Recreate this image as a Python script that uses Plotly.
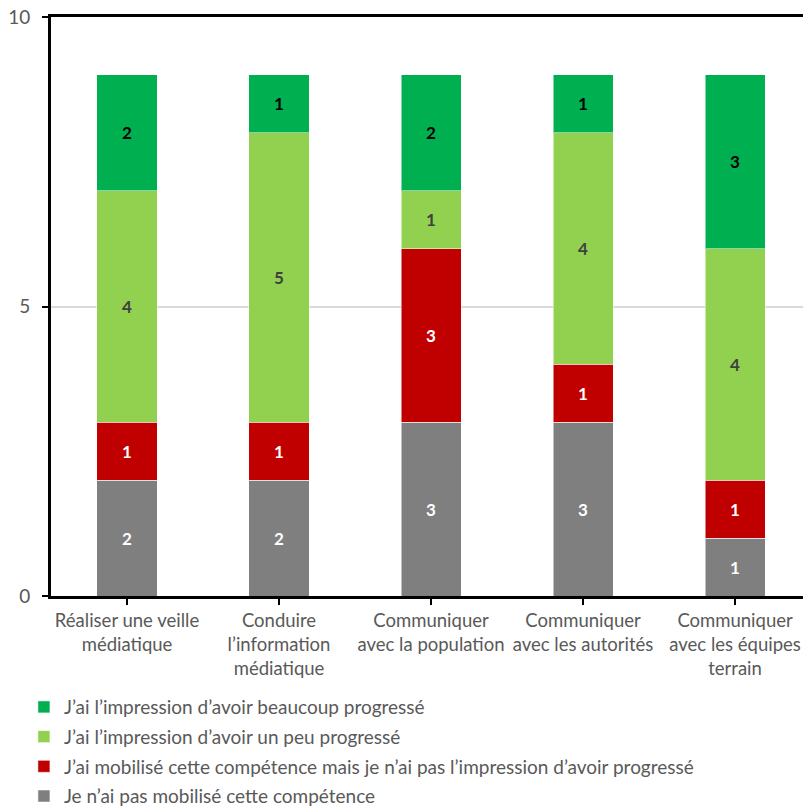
import plotly.graph_objects as go

categories = [
    "Réaliser une veille<br>médiatique",
    "Conduire<br>l’information<br>médiatique",
    "Communiquer<br>avec la population",
    "Communiquer<br>avec les autorités",
    "Communiquer<br>avec les équipes<br>terrain",
]
series_names = [
    "Je n’ai pas mobilisé cette compétence",
    "J’ai mobilisé cette compétence mais je n’ai pas l’impression d’avoir progressé",
    "J’ai l’impression d’avoir un peu progressé",
    "J’ai l’impression d’avoir beaucoup progressé",
]
pas_mobilise = [2, 2, 3, 3, 1]
mobilise_sans_progres = [1, 1, 3, 1, 1]
peu_progresse = [4, 5, 1, 4, 4]
beaucoup_progresse = [2, 1, 2, 1, 3]
y_ticks = [0, 5, 10]

series_values = [pas_mobilise, mobilise_sans_progres, peu_progresse, beaucoup_progresse]
colors = ["#7F7F7F", "#C00000", "#92D050", "#00B050"]
text_colors = ["#FFFFFF", "#FFFFFF", "#404040", "#000000"]
ranks = [4, 3, 2, 1]

FONT = "Lato, Carlito, Calibri, sans-serif"

fig = go.Figure()
for name, vals, col, tcol, rk in zip(series_names, series_values, colors, text_colors, ranks):
    fig.add_trace(go.Bar(
        x=categories, y=vals, name=name, legendgroup=name, legendrank=rk,
        marker=dict(color=col, line=dict(color="rgba(255,255,255,0.5)", width=1)),
        text=[str(v) for v in vals], textposition="inside", insidetextanchor="middle",
        textangle=0,
        textfont=dict(family=FONT, size=17, color=tcol, weight="bold"),
        constraintext="none",
    ))

fig.update_layout(
    barmode="stack",
    bargap=0.605,
    width=803, height=808,
    margin=dict(l=51, r=0, t=17, b=212, autoexpand=False),
    paper_bgcolor="white", plot_bgcolor="white",
    font=dict(family=FONT, size=19, color="#595959"),
    legend=dict(
        orientation="v", traceorder="grouped",
        x=-0.036, xanchor="left", y=-0.159, yanchor="top",
        font=dict(family=FONT, size=19, color="#595959"),
        tracegroupgap=2, itemwidth=30,
        bgcolor="rgba(0,0,0,0)",
    ),
    showlegend=True,
)
fig.update_xaxes(
    range=[-0.5, 4.447],
    showline=True, linecolor="black", linewidth=3, mirror=True,
    ticks="outside", ticklen=6, tickwidth=2, tickcolor="black",
    tickfont=dict(family=FONT, size=18.5, color="#595959"),
    showgrid=False, automargin=False,
)
fig.update_yaxes(
    range=[0, 10], tickvals=y_ticks,
    showline=True, linecolor="black", linewidth=3,
    ticks="outside", ticklen=6, tickwidth=2, tickcolor="black",
    showgrid=True, gridcolor="#D9D9D9", gridwidth=1.5,
    zeroline=False, automargin=False,
    tickfont=dict(family=FONT, size=19, color="#595959"),
    ticklabelstandoff=8,
)
fig.write_html(
    "out.html",
    config={"displayModeBar": False},
    post_script="document.body.style.margin='0';document.body.style.padding='0';",
)
